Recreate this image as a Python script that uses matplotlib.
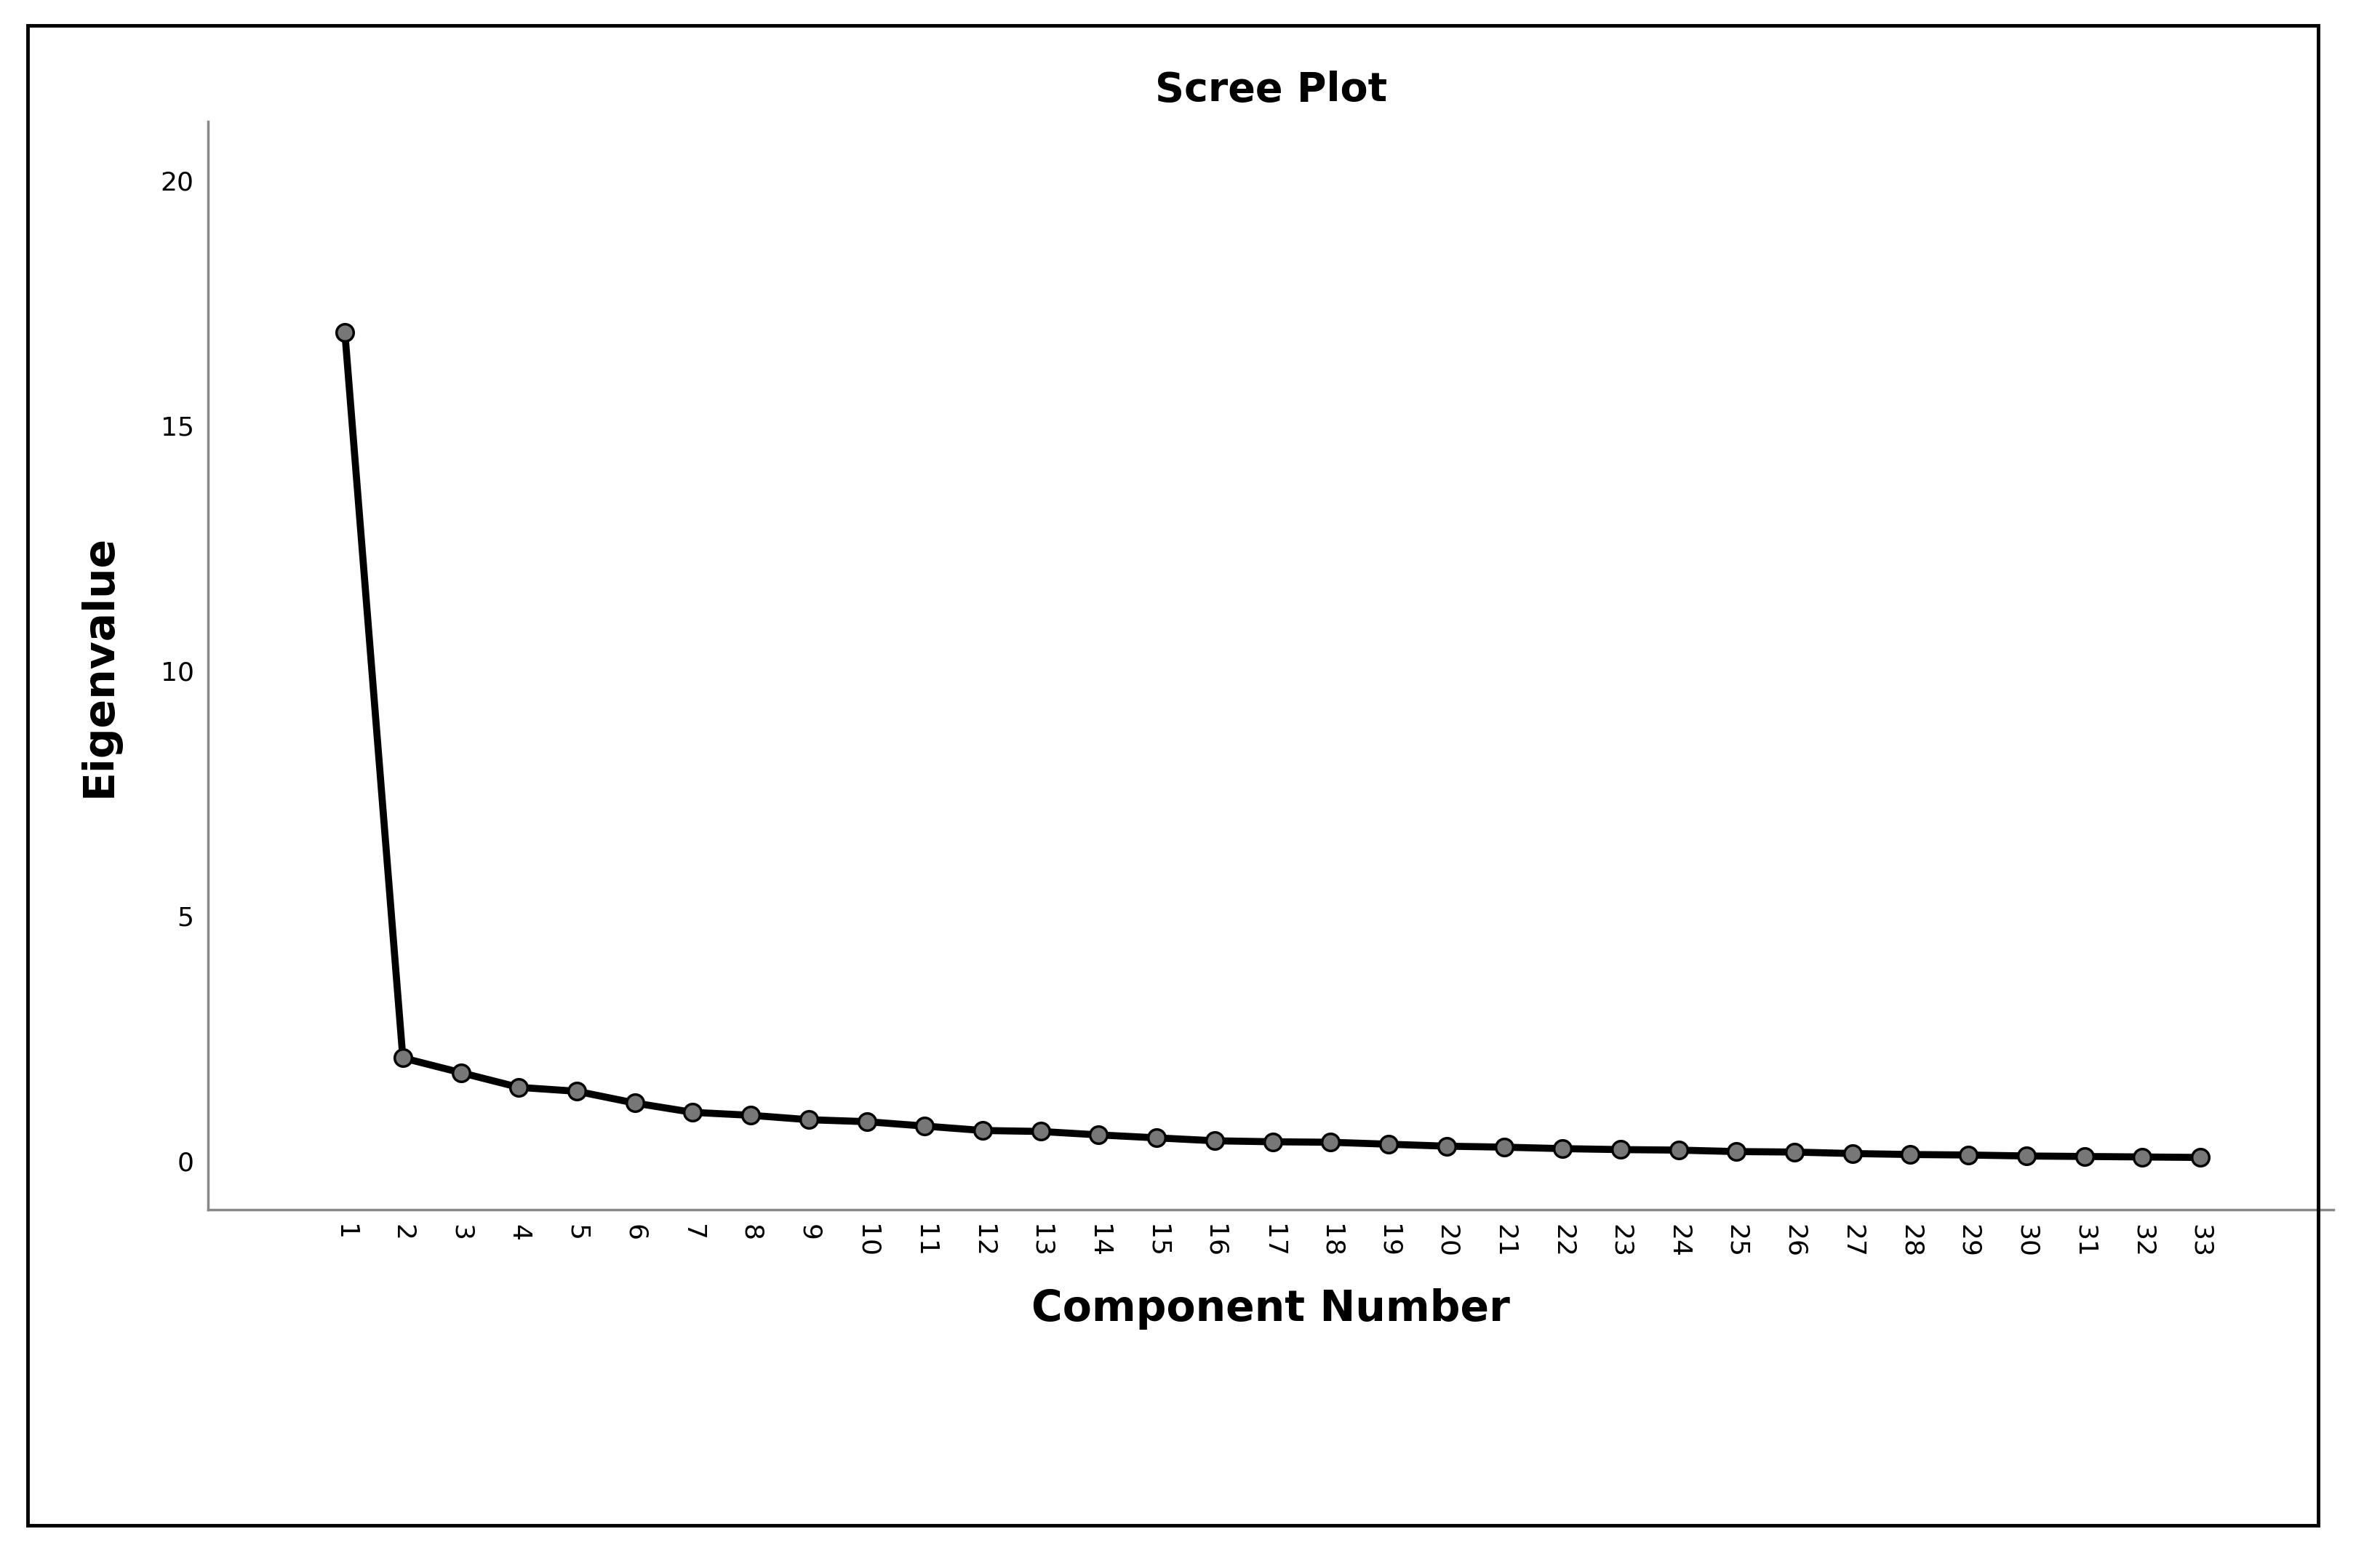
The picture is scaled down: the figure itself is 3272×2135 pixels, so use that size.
import matplotlib.pyplot as plt
from matplotlib.patches import Rectangle

components = list(range(1, 34))
eigenvalues = [16.9, 2.1, 1.8, 1.5, 1.42, 1.18, 0.99, 0.93, 0.84, 0.80, 0.71,
               0.62, 0.60, 0.53, 0.47, 0.41, 0.39, 0.38, 0.34, 0.30, 0.28, 0.25,
               0.23, 0.22, 0.19, 0.18, 0.15, 0.13, 0.12, 0.10, 0.09, 0.08, 0.07]

W, H = 1568, 1023
fig = plt.figure(figsize=(32.73, 21.35), dpi=100)
fig.patches.append(Rectangle((18 / W, 1 - 1005 / H), (1527 - 18) / W, (1005 - 17) / H,
                             transform=fig.transFigure, fill=False, lw=3.5, ec='black'))
ax = fig.add_axes([137 / W, 1 - 797 / H, (1537 - 137) / W, (797 - 80) / H])

ax.plot(components, eigenvalues, color='black', lw=7, marker='o', ms=17,
        mfc='#777777', mec='black', mew=2.5, zorder=3)

ax.set_xlim(-1.36, 35.3)
ax.set_ylim(-1.0, 21.2)
ax.set_xticks(components)
ax.set_xticklabels([str(c) for c in components], rotation=270)
ax.set_yticks([0, 5, 10, 15, 20])
ax.tick_params(length=0, labelsize=26, pad=14)
for s in ['top', 'right']:
    ax.spines[s].set_visible(False)
for s in ['left', 'bottom']:
    ax.spines[s].set_color('#888888')
    ax.spines[s].set_linewidth(2.5)

ax.set_title('Scree Plot', fontsize=40, fontweight='bold', pad=20)
ax.set_xlabel('Component Number', fontsize=42, fontweight='bold', labelpad=30)
ax.set_ylabel('Eigenvalue', fontsize=42, fontweight='bold', labelpad=40)

fig.savefig('out.png', dpi=100)
